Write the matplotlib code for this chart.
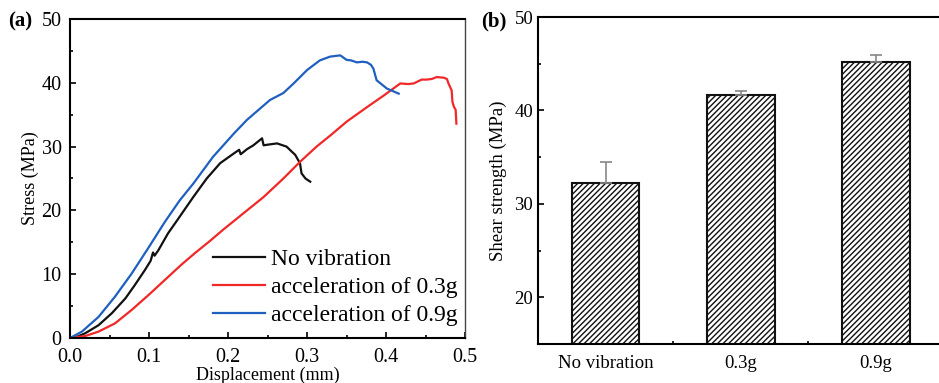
import matplotlib
matplotlib.use("Agg")
import matplotlib.pyplot as plt
from matplotlib.ticker import MultipleLocator
import numpy as np

plt.rcParams['font.family'] = ['Liberation Serif', 'DejaVu Serif']
plt.rcParams['hatch.linewidth'] = 1.0

# (a) stress-displacement curves
disp_none = [0.0, 0.010, 0.019, 0.036, 0.053, 0.070, 0.082, 0.095, 0.102, 0.105, 0.107,
             0.112, 0.124, 0.137, 0.156, 0.173, 0.190, 0.207, 0.214, 0.216, 0.224,
             0.232, 0.243, 0.245, 0.250, 0.262, 0.274, 0.285, 0.291, 0.293, 0.298, 0.304]
stress_none = [0.0, 0.25, 0.73, 2.0, 3.9, 6.2, 8.3, 10.7, 12.1, 13.4, 12.9,
               13.8, 16.4, 18.7, 22.1, 25.0, 27.4, 28.9, 29.5, 28.8, 29.6,
               30.2, 31.3, 30.2, 30.3, 30.5, 30.0, 28.7, 27.4, 25.8, 25.0, 24.5]

disp_03 = [0.0, 0.019, 0.036, 0.057, 0.078, 0.099, 0.120, 0.141, 0.158, 0.176, 0.194,
           0.220, 0.245, 0.270, 0.291, 0.312, 0.330, 0.350, 0.376, 0.397, 0.418, 0.428,
           0.435, 0.445, 0.451, 0.458, 0.464, 0.473, 0.477, 0.479, 0.483, 0.484, 0.486,
           0.488, 0.489]
stress_03 = [0.0, 0.3, 1.0, 2.3, 4.4, 6.7, 9.1, 11.5, 13.3, 15.1, 17.0,
             19.6, 22.1, 25.0, 27.6, 30.0, 31.8, 33.9, 36.2, 38.0, 39.9, 39.8,
             39.9, 40.5, 40.5, 40.6, 40.9, 40.8, 40.6, 39.9, 38.8, 37.0, 36.2,
             35.8, 33.6]

disp_09 = [0.0, 0.015, 0.036, 0.057, 0.078, 0.099, 0.120, 0.139, 0.156, 0.181, 0.207,
           0.224, 0.253, 0.270, 0.283, 0.300, 0.316, 0.329, 0.342, 0.350, 0.356, 0.363,
           0.370, 0.376, 0.381, 0.384, 0.388, 0.401, 0.416]
stress_09 = [0.0, 1.0, 3.3, 6.5, 10.1, 14.1, 18.2, 21.6, 24.2, 28.4, 32.0,
             34.2, 37.3, 38.4, 39.9, 42.0, 43.5, 44.1, 44.3, 43.6, 43.5, 43.2,
             43.3, 43.2, 42.8, 42.2, 40.4, 39.1, 38.3]

series_labels = ['No vibration', 'acceleration of 0.3g', 'acceleration of 0.9g']
series_colors = ['#111111', '#f02828', '#1f5fbf']

# (b) shear strength
groups = ['No vibration', '0.3g', '0.9g']
strength = [32.2, 41.6, 45.2]
strength_err = [2.3, 0.5, 0.7]

fig = plt.figure(figsize=(9.39, 3.83), dpi=100)

# ---- panel (a)
ax1 = fig.add_axes([0.0746, 0.1175, 0.4207, 0.8329])
for x, y, lab, col in zip([disp_none, disp_03, disp_09],
                          [stress_none, stress_03, stress_09],
                          series_labels, series_colors):
    ax1.plot(x, y, color=col, lw=1.6, label=lab)
ax1.set_xlim(0, 0.5)
ax1.set_ylim(0, 50)
ax1.set_xticks([0, 0.1, 0.2, 0.3, 0.4, 0.5])
ax1.set_xticklabels(['0.0', '0.1', '0.2', '0.3', '0.4', '0.5'])
ax1.xaxis.set_minor_locator(MultipleLocator(0.05))
ax1.yaxis.set_major_locator(MultipleLocator(10))
ax1.yaxis.set_minor_locator(MultipleLocator(5))
ax1.tick_params(which='both', direction='in', top=False, right=False, labelsize=14.5)
ax1.tick_params(which='major', length=4, width=1.2)
ax1.tick_params(axis='x', which='major', pad=7)
ax1.tick_params(axis='y', which='major', pad=6)
ax1.tick_params(which='minor', length=2.5, width=1.2)
for s in ['left', 'bottom', 'top']:
    ax1.spines[s].set_linewidth(1.5)
ax1.spines['right'].set_linewidth(1.0)
ax1.spines['right'].set_color('#444444')
ax1.set_xlabel('Displacement (mm)', fontsize=13, labelpad=0)
ax1.set_ylabel('Stress (MPa)', fontsize=13, labelpad=2)
leg = ax1.legend(loc='lower right', frameon=False, fontsize=17, handlelength=2.2,
                 handletextpad=0.25, labelspacing=0.28, borderaxespad=0.1,
                 bbox_to_anchor=(1.01, 0.0))
fig.text(0.009, 0.945, '(a)', fontsize=15, fontweight='bold', va='center')

# ---- panel (b)
ax2 = fig.add_axes([0.573, 0.1018, 0.432, 0.8538])
pos = np.arange(1, len(groups) + 1)
ax2.bar(pos, strength, width=0.5, bottom=0, facecolor='white', edgecolor='#111111',
        hatch='//////', linewidth=1.5)
ax2.errorbar(pos, strength, yerr=[np.zeros(len(strength)), strength_err], fmt='none',
             ecolor='#888888', elinewidth=1.2, capsize=4, capthick=1.2)
ax2.set_xlim(0.5, 3.5)
ax2.set_ylim(15, 50)
ax2.set_xticks(pos)
ax2.set_xticklabels(groups)
ax2.xaxis.set_minor_locator(MultipleLocator(0.5))
ax2.yaxis.set_major_locator(MultipleLocator(10))
ax2.yaxis.set_minor_locator(MultipleLocator(5))
ax2.tick_params(which='both', direction='in', top=False, right=False, labelsize=13.5)
ax2.tick_params(axis='x', which='major', length=0, pad=8)
ax2.tick_params(axis='x', which='minor', length=2.5, width=1.2)
ax2.tick_params(axis='y', which='major', length=4, width=1.2)
ax2.tick_params(axis='y', which='minor', length=2.5, width=1.2)
for s in ['left', 'bottom', 'top']:
    ax2.spines[s].set_linewidth(1.5)
ax2.set_ylabel('Shear strength (MPa)', fontsize=13.5, labelpad=5)
fig.text(0.512, 0.945, '(b)', fontsize=15, fontweight='bold', va='center')

fig.savefig('out.png', dpi=100)
